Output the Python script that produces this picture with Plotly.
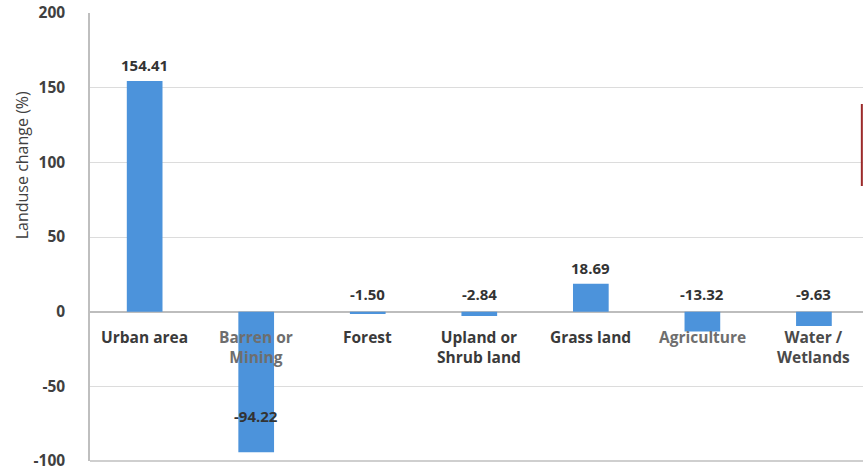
import plotly.graph_objects as go

# Land-use categories and percentage change
categories = ["Urban area", "Barren or<br>Mining", "Forest", "Upland or<br>Shrub land",
              "Grass land", "Agriculture", "Water /<br>Wetlands"]
change_pct = [154.41, -94.22, -1.50, -2.84, 18.69, -13.32, -9.63]
label_mode = ["above", "inside", "zero", "zero", "above", "zero", "zero"]
category_colors = ["#3a3a3a", "#6e6e6e", "#3a3a3a", "#3a3a3a", "#3a3a3a", "#6e6e6e", "#4a4a4a"]
y_ticks = [-100, -50, 0, 50, 100, 150, 200]

FONT = "Open Sans"
BAR = "#4C93DB"

fig = go.Figure(go.Bar(
    x=list(range(len(categories))),
    y=change_pct,
    width=0.32,
    marker=dict(color=BAR, line=dict(width=0)),
    hoverinfo="skip",
))

annotations = []
for i, (v, mode) in enumerate(zip(change_pct, label_mode)):
    txt = f"{v:.2f}"
    if mode == "above":
        ann = dict(y=v, yanchor="bottom", yshift=4)
    elif mode == "inside":
        ann = dict(y=v, yanchor="bottom", yshift=24)
    else:
        ann = dict(y=0, yanchor="bottom", yshift=6)
    annotations.append(dict(x=i, xref="x", yref="y", text=txt, showarrow=False,
                            font=dict(family=FONT, size=15, color="#333333", weight="bold"),
                            **ann))
    # category name under the zero line
    annotations.append(dict(x=i, y=0, xref="x", yref="y", text=categories[i], showarrow=False,
                            yanchor="top", yshift=-12,
                            font=dict(family=FONT, size=15.5, color=category_colors[i], weight="bold")))

# rotated axis title
annotations.append(dict(x=-0.088, y=0.66, xref="paper", yref="paper", text="Landuse change (%)",
                        textangle=-90, showarrow=False, xanchor="center", yanchor="middle",
                        font=dict(family=FONT, size=16, color="#404040")))

fig.update_layout(
    width=863, height=470,
    margin=dict(l=90, r=0, t=13, b=9),
    paper_bgcolor="white", plot_bgcolor="white",
    showlegend=False,
    annotations=annotations,
    xaxis=dict(range=[-0.49, 6.44], showticklabels=False, showgrid=False,
               zeroline=False, showline=False, fixedrange=True),
    yaxis=dict(range=[-100, 200], tickvals=y_ticks, ticktext=[str(t) for t in y_ticks],
               ticks="", ticklabeloverflow="allow",
               tickfont=dict(family=FONT, size=15.5, color="#404040", weight="bold"),
               gridcolor="#DCDCDC", gridwidth=1,
               zeroline=True, zerolinecolor="#BDBDBD", zerolinewidth=1.5,
               showline=True, linecolor="#BFBFBF", linewidth=1.5, ticklabelstandoff=20),
    shapes=[
        dict(type="line", xref="paper", yref="paper", x0=0, x1=1, y0=0, y1=0,
             line=dict(color="#BFBFBF", width=1.5)),
        dict(type="line", xref="paper", yref="paper", x0=0.9985, x1=0.9985,
             y0=(461 - 186) / 448, y1=(461 - 104) / 448,
             line=dict(color="#9B2A2A", width=2)),
    ],
)

fig.write_html("out.html")
